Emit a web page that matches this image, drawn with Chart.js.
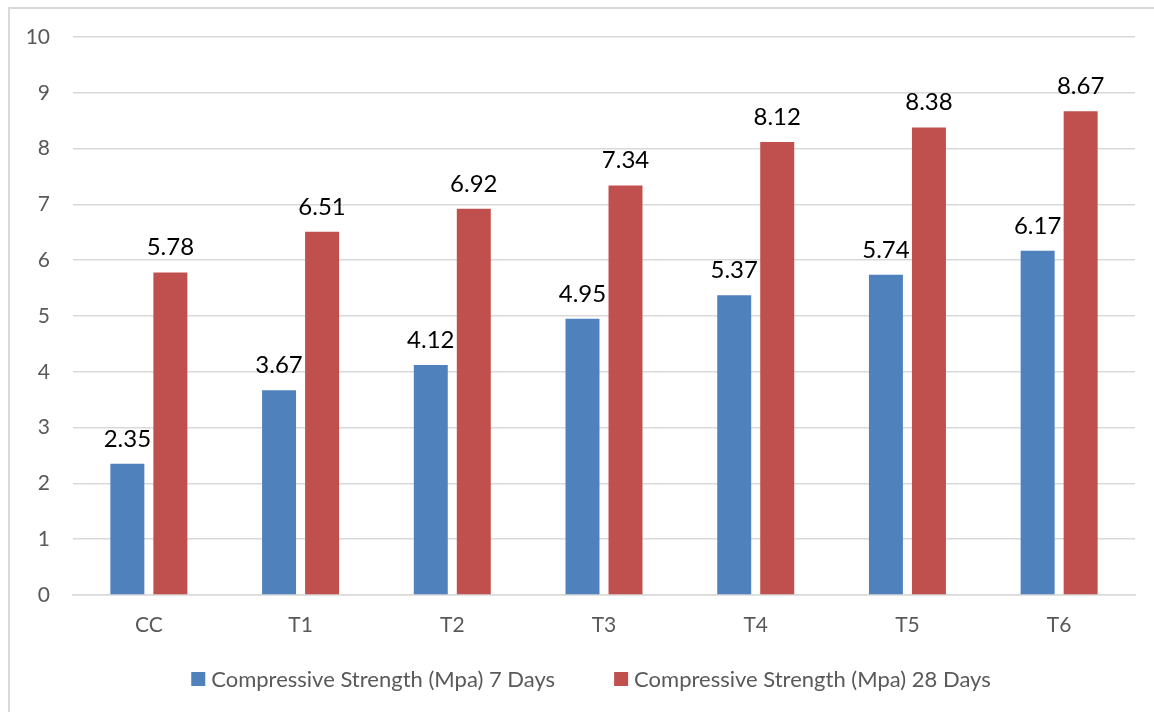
<!DOCTYPE html>
<html>
<head>
<meta charset="utf-8">
<script src="https://cdn.jsdelivr.net/npm/chart.js@4/dist/chart.umd.min.js"></script>
<style>
  html, body { margin: 0; padding: 0; background: #fff; }
  #wrap { position: relative; width: 1154px; height: 712px; overflow: hidden; background: #fff; }
  #frame { position: absolute; left: 8px; top: 7px; width: 1300px; height: 900px;
           border-left: 2px solid #d9d9d9; border-top: 2px solid #d9d9d9; box-sizing: border-box; }
  #c { position: absolute; left: 0; top: 0; }
</style>
</head>
<body>
<div id="wrap">
  <div id="frame"></div>
  <canvas id="c" width="1154" height="712"></canvas>
</div>
<script>
// Mix designs and compressive strength results (MPa)
const categories = ['CC', 'T1', 'T2', 'T3', 'T4', 'T5', 'T6'];
const strength7Days = [2.35, 3.67, 4.12, 4.95, 5.37, 5.74, 6.17];
const strength28Days = [5.78, 6.51, 6.92, 7.34, 8.12, 8.38, 8.67];
const seriesNames = ['Compressive Strength (Mpa) 7 Days', 'Compressive Strength (Mpa) 28 Days'];
const yMin = 0;
const yMax = 10;
const yStep = 1;

const FONT = 'Lato, "Open Sans", "DejaVu Sans", sans-serif';
const TEXT_GREY = '#595959';
const GRID_GREY = '#d9d9d9';

// Values written above each bar
const valueLabels = {
  id: 'valueLabels',
  afterDatasetsDraw(chart) {
    const ctx = chart.ctx;
    ctx.save();
    ctx.font = '24px ' + FONT;
    ctx.fillStyle = '#000';
    ctx.textAlign = 'center';
    ctx.textBaseline = 'alphabetic';
    chart.data.datasets.forEach((ds, i) => {
      const meta = chart.getDatasetMeta(i);
      meta.data.forEach((bar, j) => {
        ctx.fillText(ds.data[j].toFixed(2), bar.x, bar.y - 17);
      });
    });
    ctx.restore();
  }
};

// Legend row under the category axis
const bottomLegend = {
  id: 'bottomLegend',
  afterDraw(chart) {
    const ctx = chart.ctx;
    const box = 14, boxGap = 6, itemGap = 59;
    const cx = 591, cy = 679;
    ctx.save();
    ctx.font = '22px ' + FONT;
    const items = chart.data.datasets.map(ds => ({
      text: ds.label, color: ds.backgroundColor, w: ctx.measureText(ds.label).width
    }));
    let total = 0;
    items.forEach((it, k) => { total += box + boxGap + it.w + (k ? itemGap : 0); });
    let x = cx - total / 2;
    ctx.textBaseline = 'middle';
    ctx.textAlign = 'left';
    items.forEach((it) => {
      ctx.fillStyle = it.color;
      ctx.fillRect(x, cy - box / 2, box, box);
      ctx.fillStyle = TEXT_GREY;
      ctx.fillText(it.text, x + box + boxGap, cy + 1);
      x += box + boxGap + it.w + itemGap;
    });
    ctx.restore();
  }
};

new Chart(document.getElementById('c'), {
  type: 'bar',
  data: {
    labels: categories,
    datasets: [
      { label: seriesNames[0], data: strength7Days, backgroundColor: '#4f81bd',
        categoryPercentage: 0.567, barPercentage: 0.79 },
      { label: seriesNames[1], data: strength28Days, backgroundColor: '#c0504d',
        categoryPercentage: 0.567, barPercentage: 0.79 }
    ]
  },
  options: {
    responsive: false,
    animation: false,
    devicePixelRatio: 1,
    layout: { padding: { left: 0, right: 19, top: 37, bottom: 0 } },
    plugins: {
      legend: { display: false },
      tooltip: { enabled: false }
    },
    scales: {
      x: {
        grid: { display: false, drawTicks: false },
        border: { display: true, color: GRID_GREY, width: 1.5 },
        ticks: { color: TEXT_GREY, font: { family: FONT, size: 21 }, padding: 18 },
        afterFit(scale) { scale.height = 117; }
      },
      y: {
        min: yMin,
        max: yMax,
        grid: { color: GRID_GREY, lineWidth: 1.5, drawTicks: false },
        border: { display: false },
        ticks: { stepSize: yStep, color: TEXT_GREY, font: { family: FONT, size: 21 }, padding: 23 },
        afterFit(scale) { scale.width = 73; }
      }
    }
  },
  plugins: [valueLabels, bottomLegend]
});
</script>
</body>
</html>
